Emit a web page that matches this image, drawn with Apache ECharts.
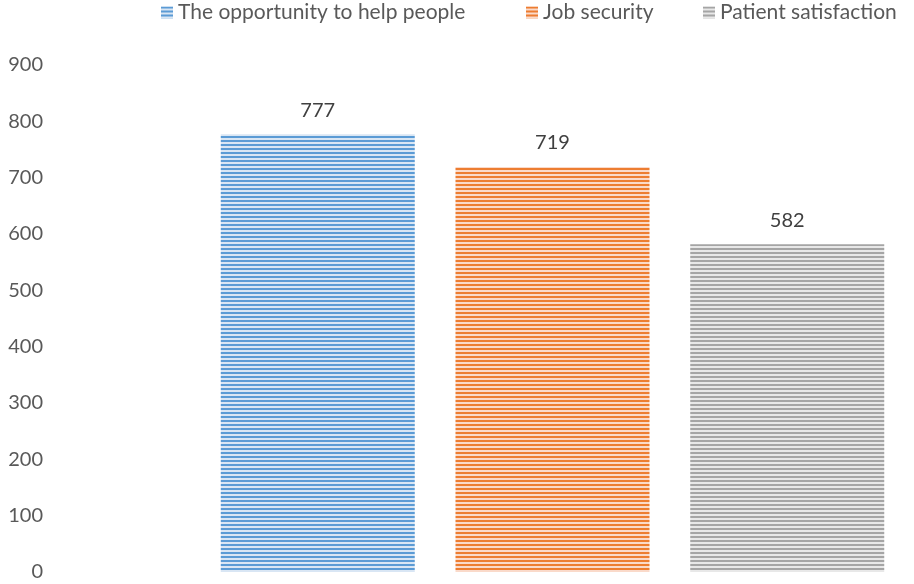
<!DOCTYPE html>
<html><head><meta charset="utf-8">
<script src="https://cdn.jsdelivr.net/npm/echarts@6/dist/echarts.min.js"></script>
<style>html,body{margin:0;padding:0;background:#fff}#c{width:914px;height:584px}</style>
</head><body><div id="c"></div>
<script>
const categories = [''];
const seriesNames = ['The opportunity to help people', 'Job security', 'Patient satisfaction'];
const seriesValues = [[777], [719], [582]];
const yTicks = [0, 900, 100];
const colors = [['#5B9BD5', '#D9E6F4'], ['#ED7D31', '#FADACA'], ['#A5A5A5', '#E8E8E8']];
const legendLefts = [161, 526, 703];

function stripe(dark, light) {
  const c = document.createElement('canvas');
  c.width = 4; c.height = 4;
  const g = c.getContext('2d');
  g.fillStyle = light; g.fillRect(0, 0, 4, 4);
  g.fillStyle = dark; g.fillRect(0, 0, 4, 2);
  return { image: c, repeat: 'repeat' };
}

const chart = echarts.init(document.getElementById('c'));
const font = 'Lato, sans-serif';
chart.setOption({
  animation: false,
  legend: seriesNames.map((n, i) => ({
    top: 2, left: legendLefts[i], itemWidth: 12, itemHeight: 12, padding: 0,
    icon: 'rect',
    textStyle: { fontFamily: font, fontSize: 21, color: '#595959' },
    data: [n]
  })),
  grid: { left: 201, right: 10, top: 65, bottom: 12 },
  xAxis: {
    type: 'category', data: categories,
    axisLine: { show: false }, axisTick: { show: false }, axisLabel: { show: false }
  },
  yAxis: {
    type: 'value', min: yTicks[0], max: yTicks[1], interval: yTicks[2],
    splitLine: { show: false }, axisLine: { show: false }, axisTick: { show: false },
    axisLabel: { margin: 158, fontFamily: font, fontSize: 20, color: '#595959' }
  },
  series: seriesNames.map((n, i) => ({
    name: n, type: 'bar', data: seriesValues[i],
    barWidth: 194, barGap: '21%',
    itemStyle: { color: stripe(colors[i][0], colors[i][1]) },
    label: { show: true, position: 'top', distance: 14, fontFamily: font, fontSize: 20, color: '#404040' }
  }))
});
</script></body></html>
